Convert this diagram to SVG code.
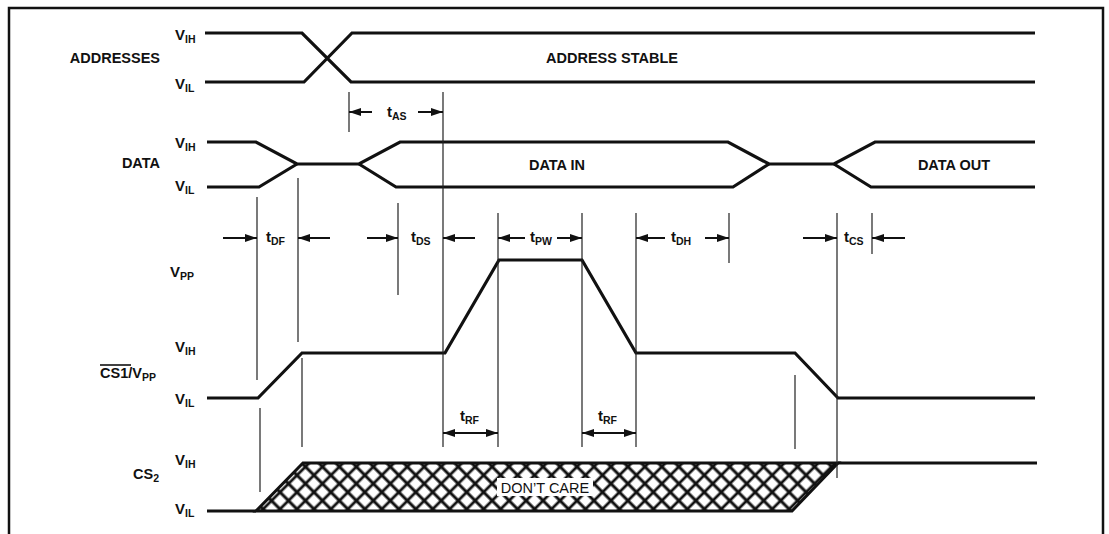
<svg xmlns="http://www.w3.org/2000/svg" width="1109" height="534" viewBox="0 0 1109 534">
<style>
text{font-family:"Liberation Sans",Arial,Helvetica,sans-serif;font-weight:bold;fill:#111}
.lbl{font-size:14.5px}
.v{font-size:15px}
.sub{font-size:10.5px}
.sig{fill:none;stroke:#111;stroke-width:3.2;stroke-linejoin:miter}
.thin{fill:none;stroke:#222;stroke-width:1.2}
.arr{fill:none;stroke:#111;stroke-width:2}
.dc{font-weight:normal;font-size:14.5px}
</style>
<defs>
<marker id="ah" markerUnits="userSpaceOnUse" markerWidth="13" markerHeight="9" refX="12" refY="4" orient="auto-start-reverse">
<path d="M0,0 L12,4 L0,8 z" fill="#111"/>
</marker>
<pattern id="hatch" patternUnits="userSpaceOnUse" width="12" height="12" patternTransform="rotate(45)">
<rect width="12" height="12" fill="#fff"/>
<path d="M0,6 H12 M6,0 V12" stroke="#111" stroke-width="2.8"/>
</pattern>
</defs>
<rect width="1109" height="534" fill="#fff"/>
<path d="M9,534 V8 H1103 V534" fill="none" stroke="#111" stroke-width="2.5"/>

<g id="addresses">
<text class="lbl" x="160" y="63" text-anchor="end">ADDRESSES</text>
<text class="v" x="175" y="40">V<tspan class="sub" dy="3">IH</tspan></text>
<text class="v" x="175" y="89">V<tspan class="sub" dy="3">IL</tspan></text>
<path class="sig" d="M205,33 H302 L351,82 H1035"/>
<path class="sig" d="M205,82 H304 L352,33 H1035"/>
<text class="lbl" x="612" y="63" text-anchor="middle">ADDRESS STABLE</text>
</g>

<g id="data">
<text class="lbl" x="160" y="168" text-anchor="end">DATA</text>
<text class="v" x="175" y="148">V<tspan class="sub" dy="3">IH</tspan></text>
<text class="v" x="175" y="191">V<tspan class="sub" dy="3">IL</tspan></text>
<path class="sig" d="M207,142 H256 L297,164 H359 L400,142 H728 L769,164 H834 L875,142 H1035"/>
<path class="sig" d="M207,187 H259 L297,164"/>
<path class="sig" d="M359,164 L396,187 H733 L769,164"/>
<path class="sig" d="M834,164 L871,187 H1035"/>
<text class="lbl" x="557" y="170" text-anchor="middle">DATA IN</text>
<text class="lbl" x="954" y="170" text-anchor="middle">DATA OUT</text>
</g>

<g id="cs1">
<text class="v" x="170" y="277">V<tspan class="sub" dy="3">PP</tspan></text>
<text class="v" x="175" y="352">V<tspan class="sub" dy="3">IH</tspan></text>
<text class="lbl" x="100" y="378">CS1/V<tspan class="sub" dy="3">PP</tspan></text>
<line x1="100" y1="365" x2="131" y2="365" stroke="#111" stroke-width="1.6"/>
<text class="v" x="175" y="404">V<tspan class="sub" dy="3">IL</tspan></text>
<path class="sig" d="M207,398 H258 L302,353 H445 L499,260 H582 L636,353 H795 L838,398 H1035"/>
</g>

<g id="cs2">
<text class="v" x="175" y="465">V<tspan class="sub" dy="3">IH</tspan></text>
<text class="lbl" x="133" y="479">CS<tspan class="sub" dy="3">2</tspan></text>
<text class="v" x="175" y="514">V<tspan class="sub" dy="3">IL</tspan></text>
<path d="M256,511 L303,463 H838 L792,511 z" fill="url(#hatch)" stroke="#111" stroke-width="3" stroke-linejoin="miter"/>
<path class="sig" d="M207,511 H256"/>
<path class="sig" d="M838,463 H1037"/>
<rect x="497" y="478" width="96" height="18" fill="#fff"/>
<text class="dc" x="545" y="493" text-anchor="middle">DON’T CARE</text>
</g>

<g id="connectors">
<path class="thin" d="M257,197 V380 M260,408 V492 M298,178 V342 M302,358 V447 M349,92 V132 M398,203 V295 M443,92 V447 M498,213 V447 M582,213 V447 M636,213 V447 M729,213 V263 M795,375 V449 M837,213 V478 M872,213 V254"/>
<line class="arr" x1="372" y1="112" x2="349" y2="112" marker-end="url(#ah)"/>
<line class="arr" x1="418" y1="112" x2="443" y2="112" marker-end="url(#ah)"/>
<line class="arr" x1="223" y1="238" x2="257" y2="238" marker-end="url(#ah)"/>
<line class="arr" x1="330" y1="238" x2="298" y2="238" marker-end="url(#ah)"/>
<line class="arr" x1="367" y1="238" x2="398" y2="238" marker-end="url(#ah)"/>
<line class="arr" x1="475" y1="238" x2="443" y2="238" marker-end="url(#ah)"/>
<line class="arr" x1="525" y1="238" x2="498" y2="238" marker-end="url(#ah)"/>
<line class="arr" x1="557" y1="238" x2="582" y2="238" marker-end="url(#ah)"/>
<line class="arr" x1="665" y1="238" x2="636" y2="238" marker-end="url(#ah)"/>
<line class="arr" x1="705" y1="238" x2="729" y2="238" marker-end="url(#ah)"/>
<line class="arr" x1="803" y1="238" x2="837" y2="238" marker-end="url(#ah)"/>
<line class="arr" x1="905" y1="238" x2="872" y2="238" marker-end="url(#ah)"/>
<line class="arr" x1="443" y1="433" x2="498" y2="433" marker-start="url(#ah)" marker-end="url(#ah)"/>
<line class="arr" x1="582" y1="433" x2="636" y2="433" marker-start="url(#ah)" marker-end="url(#ah)"/>
</g>

<g id="timing-labels">
<text class="v" x="387" y="117">t<tspan class="sub" dy="3">AS</tspan></text>
<text class="v" x="266" y="242">t<tspan class="sub" dy="3">DF</tspan></text>
<text class="v" x="411" y="242">t<tspan class="sub" dy="3">DS</tspan></text>
<text class="v" x="530" y="242">t<tspan class="sub" dy="3">PW</tspan></text>
<text class="v" x="671" y="242">t<tspan class="sub" dy="3">DH</tspan></text>
<text class="v" x="844" y="242">t<tspan class="sub" dy="3">CS</tspan></text>
<text class="v" x="460" y="421">t<tspan class="sub" dy="3">RF</tspan></text>
<text class="v" x="598" y="421">t<tspan class="sub" dy="3">RF</tspan></text>
</g>
</svg>
